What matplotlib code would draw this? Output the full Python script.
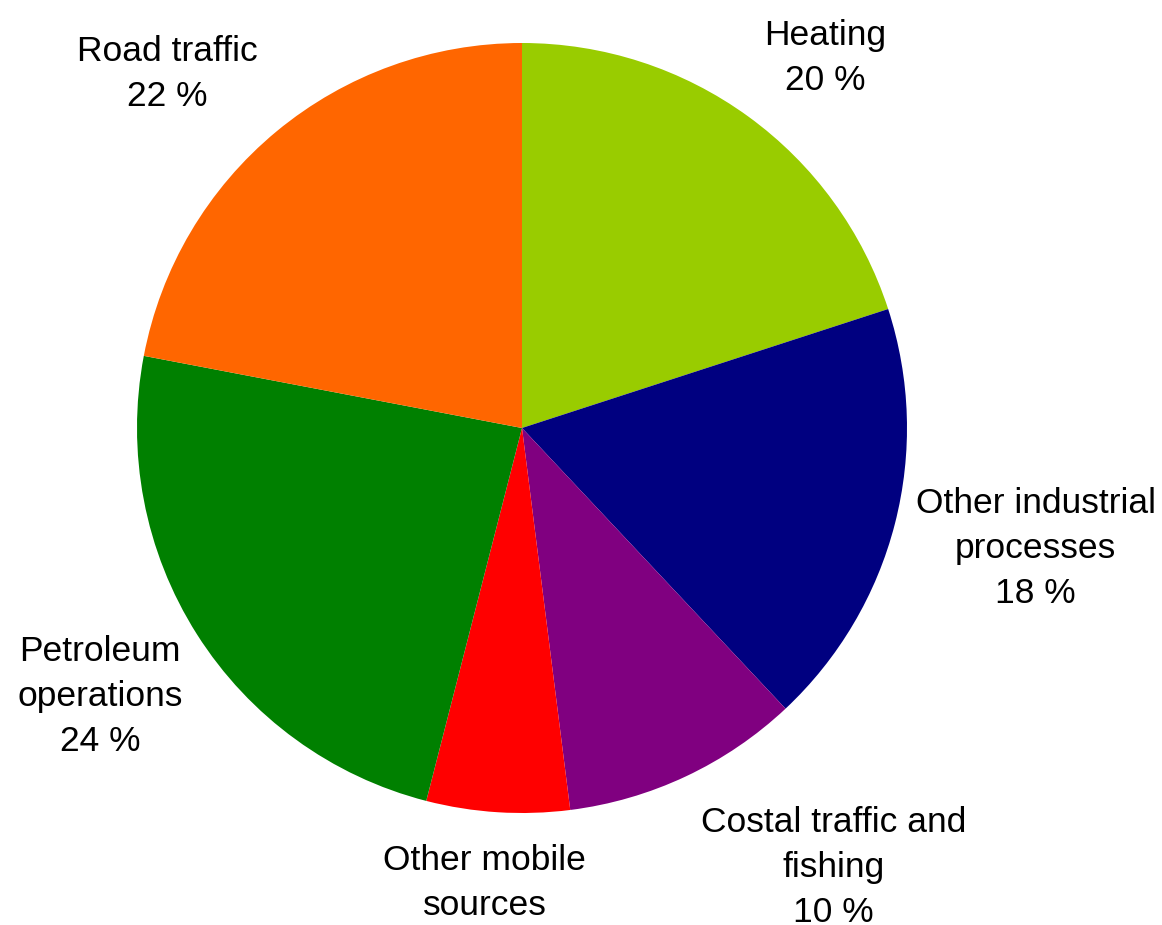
import matplotlib
matplotlib.use("Agg")
import matplotlib.pyplot as plt
import numpy as np

plt.rcParams['font.family'] = ['Liberation Sans', 'DejaVu Sans']

# emission shares, clockwise from the top
sources = ["Heating", "Other industrial\nprocesses", "Costal traffic and\nfishing",
           "Other mobile\nsources", "Petroleum\noperations", "Road traffic"]
shares = [20, 18, 10, 6, 24, 22]
pct_labels = ["20 %", "18 %", "10 %", "", "24 %", "22 %"]
colors = ["#99CC00", "#000080", "#800080", "#FF0000", "#008000", "#FF6600"]

# label distance from centre (in radii) and angle nudge (deg)
label_dist = [1.243, 1.37, 1.40, 1.186, 1.30, 1.302]
label_nudge = [-3.3, 1.2, 10.1, -1.1, 0.1, 5.4]

W, H = 1162, 925
cx, cy, R = 522, 428, 385

fig = plt.figure(figsize=(W / 100, H / 100), dpi=100)
ax = fig.add_axes([0, 0, 1, 1])

wedges, _ = ax.pie(shares, colors=colors, startangle=90, counterclock=False,
                   radius=1.0, wedgeprops=dict(linewidth=0))

total = sum(shares)
cum = 0
for i, s in enumerate(shares):
    mid = 90 - (cum + s / 2) / total * 360 + label_nudge[i]
    cum += s
    txt = sources[i] if pct_labels[i] == "" else sources[i] + "\n" + pct_labels[i]
    a = np.deg2rad(mid)
    ax.text(label_dist[i] * np.cos(a), label_dist[i] * np.sin(a), txt,
            ha="center", va="center", multialignment="center",
            fontsize=25.5, color="black", linespacing=1.46)

ax.set_xlim(-cx / R, (W - cx) / R)
ax.set_ylim(-(H - cy) / R, cy / R)
ax.set_aspect("equal")
ax.axis("off")

fig.savefig("out.png", dpi=100)
